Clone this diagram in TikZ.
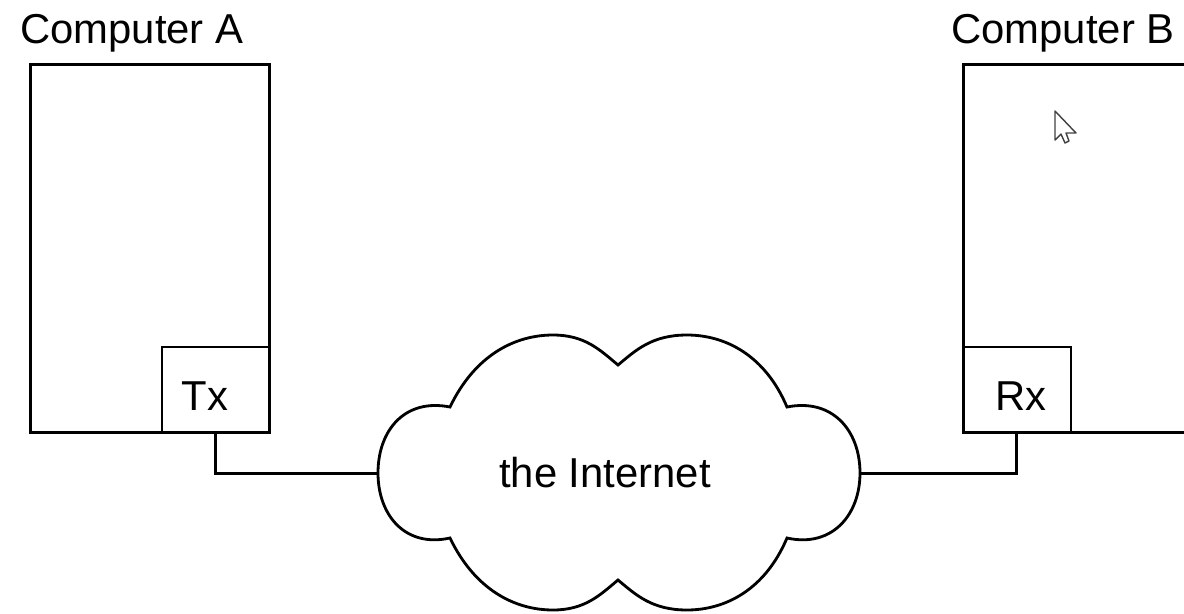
\documentclass[tikz,border=0pt]{standalone}
\usepackage{fontspec}
\setmainfont{Liberation Sans}
\begin{document}
\begin{tikzpicture}[
x=0.02cm,y=-0.02cm,
every node/.style={font=\fontsize{23.8}{28}\selectfont},
host/.style={draw,line width=1.7pt,minimum width=4.78cm,minimum height=7.36cm,inner sep=0pt,anchor=north west},
port/.style={draw,line width=1.1pt,minimum width=2.16cm,minimum height=1.72cm,inner sep=0pt},
tag/.style={anchor=base,inner sep=0pt},
title/.style={anchor=base west,inner sep=0pt},
wire/.style={line width=1.7pt},
]
\clip(0,0)rectangle(1184,613);
%\draw[help lines,step=50](0,0)grid(1184,613);

%Computer A
\node[title](titleA)at(20,43){Computer A};
\node[host](compA)at(29,63){};
\node[port,anchor=south east](tx)at(compA.south east){};
\node[tag](txtext)at(205,410){Tx};

%Computer B
\node[title](titleB)at(951,43){Computer B};
\node[host,minimum width=6cm](compB)at(962,63){};
\node[port,anchor=south west](rx)at(compB.south west){};
\node[tag](rxtext)at(1021,410){Rx};
\draw[black!75,line width=0.8pt,line join=round,fill=white](1055,111)--(1055,140)--(1061,134)--(1065,143)--(1069,141)--(1066,133)--(1076,133)--cycle;

%Cloud
\draw[line width=1.6pt]
(450,407) .. controls (475,355) and (515,335) .. (553,335)
 .. controls (585,335) and (600,350) .. (618,365)
 .. controls (636,350) and (652,335) .. (687,335)
 .. controls (725,335) and (765,355) .. (787,407)
 .. controls (832,398) and (860,430) .. (860,473)
 .. controls (860,515) and (832,548) .. (787,538)
 .. controls (765,590) and (725,610) .. (687,610)
 .. controls (652,610) and (636,595) .. (618,580)
 .. controls (600,595) and (585,610) .. (553,610)
 .. controls (515,610) and (475,590) .. (450,538)
 .. controls (405,548) and (378,515) .. (378,473)
 .. controls (378,430) and (405,398) .. cycle;
\coordinate(netW)at(378,473);
\coordinate(netE)at(860,473);
\node[tag](net)at(605,487){the Internet};

%Links
\draw[wire](tx.south)|-(netW);
\draw[wire](rx.south)|-(netE);

\end{tikzpicture}
\end{document}
